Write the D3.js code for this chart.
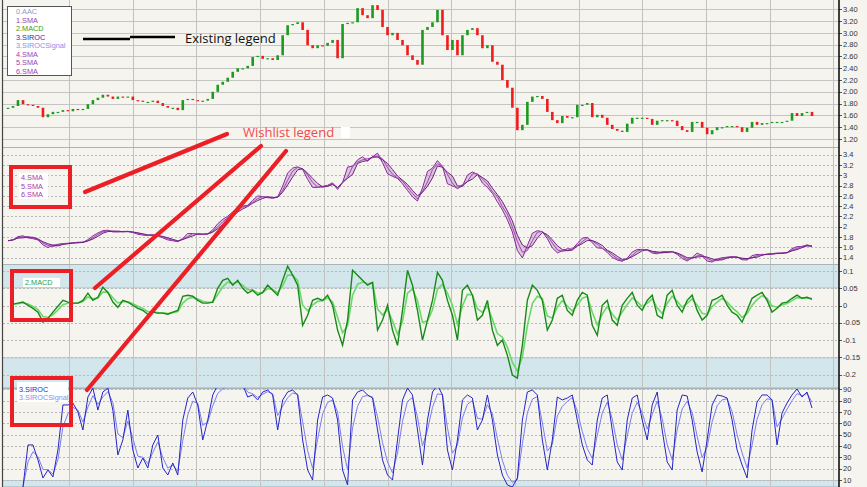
<!DOCTYPE html>
<html><head><meta charset="utf-8">
<script src="https://cdn.jsdelivr.net/npm/d3@7"></script>
<style>body{margin:0;background:#f5f4ef;} svg{display:block;}</style>
</head><body><svg id="c" width="867" height="487"></svg>
<script>
// ---------- DATA ----------
const closePrices = [1.73,1.76,1.86,1.79,1.78,1.76,1.73,1.57,1.62,1.66,1.66,1.69,1.67,1.71,1.69,1.71,1.79,1.86,1.90,1.95,
1.92,1.88,1.92,1.90,1.92,1.86,1.85,1.83,1.83,1.85,1.81,1.76,1.73,1.73,1.69,1.86,1.88,1.86,1.85,1.85,
1.88,2.00,2.12,2.17,2.24,2.34,2.40,2.40,2.44,2.59,2.61,2.56,2.57,2.54,2.62,2.96,3.13,3.15,3.18,3.05,
2.79,2.74,2.79,2.78,2.83,2.88,2.57,3.15,3.17,3.18,3.42,3.30,3.25,3.47,3.39,3.10,2.96,3.00,2.88,2.79,
2.62,2.54,2.46,3.05,3.10,3.18,3.39,2.96,2.71,2.88,2.62,2.96,3.05,3.08,2.96,2.74,2.79,2.51,2.46,2.20,
2.07,1.73,1.35,1.44,1.83,1.92,1.93,1.88,1.66,1.52,1.47,1.59,1.56,1.57,1.78,1.78,1.81,1.57,1.61,1.56,
1.44,1.37,1.34,1.32,1.46,1.56,1.56,1.56,1.54,1.44,1.51,1.52,1.52,1.51,1.42,1.35,1.32,1.49,1.49,1.39,
1.28,1.35,1.40,1.40,1.42,1.42,1.40,1.32,1.39,1.49,1.44,1.47,1.47,1.49,1.49,1.49,1.51,1.64,1.59,1.64,
1.66,1.59];
const macdValues = [null,0.004,0.007,0.010,0.001,-0.008,-0.019,-0.048,-0.037,-0.019,-0.002,0.015,0.010,0.007,0.007,0.015,0.036,0.015,0.024,0.053,
0.038,0.010,-0.005,0.015,0.010,0.001,-0.008,-0.014,-0.025,-0.019,-0.022,-0.022,-0.025,-0.019,-0.014,0.027,0.030,0.027,0.015,0.007,
0.007,0.010,0.050,0.073,0.079,0.059,0.073,0.050,0.036,0.044,0.030,0.038,0.059,0.044,0.030,0.073,0.114,0.088,0.059,-0.057,
-0.028,0.015,0.021,0.015,0.030,0.001,-0.071,-0.115,-0.042,0.102,0.088,0.073,0.059,0.067,-0.071,-0.042,0.001,-0.071,-0.115,-0.014,
0.102,0.059,-0.014,-0.100,-0.042,0.015,0.096,0.073,0.015,-0.028,-0.100,0.044,0.059,0.030,-0.042,-0.028,0.015,-0.071,-0.115,-0.100,
-0.144,-0.201,-0.210,-0.115,0.015,0.059,0.044,0.015,-0.071,-0.042,0.021,0.030,-0.014,-0.028,0.015,0.038,0.030,-0.057,-0.086,0.001,
0.015,-0.042,-0.057,0.001,0.021,0.038,0.001,-0.014,0.015,0.030,-0.028,-0.037,0.030,0.044,0.001,-0.019,0.015,0.030,-0.014,-0.042,
-0.028,0.015,0.021,0.030,0.001,-0.019,-0.028,-0.048,-0.014,0.021,0.030,0.038,0.015,-0.019,-0.008,0.007,0.010,0.021,0.030,0.021,
0.024,0.018];
const sirocValues = [null,null,null,3.8,40.9,40.9,27.7,11.8,18.8,12.7,36.5,76.2,76.2,77.9,70.0,54.1,83.2,91.1,71.7,87.6,
91.1,71.7,32.1,45.3,71.7,36.5,20.6,29.4,20.6,40.9,49.7,20.6,14.4,25.0,14.4,62.9,82.3,87.6,76.2,45.3,
62.9,85.0,93.8,92.9,93.8,92.9,95.6,93.8,83.2,85.0,80.6,87.6,89.4,85.0,54.1,80.6,87.6,89.4,85.0,45.3,
18.8,10.0,62.9,83.2,85.0,82.3,62.9,18.8,5.6,80.6,87.6,89.4,85.0,82.3,54.1,27.7,14.4,10.0,45.3,80.6,
91.1,85.0,54.1,23.2,62.9,87.6,93.8,85.0,36.5,18.8,45.3,80.6,85.0,82.3,54.1,62.9,85.0,62.9,32.1,14.4,
5.6,3.8,11.8,62.9,87.6,89.4,85.0,45.3,18.8,45.3,83.2,80.6,82.3,85.0,62.9,40.9,27.7,23.2,62.9,82.3,
85.0,54.1,25.9,18.8,62.9,82.3,85.0,62.9,45.3,76.2,87.6,54.1,25.9,18.8,71.7,85.0,84.1,62.9,34.7,17.1,
45.3,76.2,85.0,84.1,82.3,62.9,36.5,23.2,11.8,54.1,78.8,85.0,85.0,80.6,40.9,69.1,77.9,85.0,90.3,83.2,
87.6,73.5];
const smaPeriods = [2,3,4];
const priceTicks = [1.2,1.4,1.6,1.8,2.0,2.2,2.4,2.6,2.8,3.0,3.2,3.4];
const smaTicks = [1.4,1.6,1.8,2.0,2.2,2.4,2.6,2.8,3.0,3.2,3.4];
const macdTicks = [-0.2,-0.15,-0.1,-0.05,0,0.05,0.1];
const sirocTicks = [10,20,30,40,50,60,70,80,90];
const legendNames = ["0.AAC","1.SMA","2.MACD","3.SIROC","3.SIROCSignal","4.SMA","5.SMA","6.SMA"];
const legendColors = ["#8a9ac8","#a040b0","#30a030","#2a2ac0","#8c8cf0","#a040b0","#a040b0","#a040b0"];

// ---------- HELPERS (derived indicator lines) ----------
function sma(a,n){return a.map((v,i)=>{const s=a.slice(Math.max(0,i-n+1),i+1);return d3.mean(s);});}
function ema(a,k){let p=null;return a.map(v=>{if(v==null)return null;p=(p==null)?v:p+k*(v-p);return p;});}

// ---------- LAYOUT ----------
const svg=d3.select('#c');
const N=closePrices.length;
const AX=839;
const x=d3.scaleLinear().domain([0,N-1]).range([8,812]);
const P={price:[0,147],sma:[147,264],macd:[264,388],siroc:[388,487]};
const yP=d3.scaleLinear().domain([1.2,3.4]).range([139,9.3]);
const yS=d3.scaleLinear().domain([1.4,3.4]).range([257.7,154.7]);
const yM=d3.scaleLinear().domain([-0.2,0.1]).range([374.7,271]);
const yR=d3.scaleLinear().domain([10,90]).range([480,389.3]);

svg.append('rect').attr('width',867).attr('height',487).attr('fill','#f5f4ef');
const defs=svg.append('defs');
Object.entries(P).forEach(([k,[a,b]])=>{
  defs.append('clipPath').attr('id','clip-'+k).append('rect').attr('x',3).attr('y',a).attr('width',AX-3).attr('height',b-a);
});

// bands
const bandFill='#d3e6ec', bandLine='#b4ccd4';
[[P.macd[0],yM(0.05)],[yM(-0.15),P.macd[1]],[P.siroc[0],yR(90)],[yR(10),P.siroc[1]]].forEach(([a,b])=>{
  svg.append('rect').attr('x',3).attr('y',a).attr('width',AX-3).attr('height',b-a).attr('fill',bandFill);
  svg.append('line').attr('x1',3).attr('x2',AX).attr('y1',a+0.5).attr('y2',a+0.5).attr('stroke',bandLine);
  svg.append('line').attr('x1',3).attr('x2',AX).attr('y1',b-0.5).attr('y2',b-0.5).attr('stroke',bandLine);
});

// horizontal grid
const gridG=svg.append('g');
priceTicks.forEach(t=>gridG.append('line').attr('x1',3).attr('x2',AX).attr('y1',Math.round(yP(t))+0.5).attr('y2',Math.round(yP(t))+0.5).attr('stroke','#c4c4c2'));
[[smaTicks,yS],[macdTicks,yM],[sirocTicks,yR]].forEach(([ts,s])=>ts.forEach(t=>
  gridG.append('line').attr('x1',3).attr('x2',AX).attr('y1',Math.round(s(t))+0.5).attr('y2',Math.round(s(t))+0.5)
   .attr('stroke','#b9b9b7').attr('stroke-dasharray','2,2')));
// vertical grid
d3.range(69,AX,63.7).forEach(v=>gridG.append('line').attr('x1',Math.round(v)+0.5).attr('x2',Math.round(v)+0.5).attr('y1',0).attr('y2',487).attr('stroke','#c2c2c0'));
// panel separators
[P.sma[0],P.macd[0],P.siroc[0]].forEach(v=>svg.append('line').attr('x1',3).attr('x2',AX).attr('y1',v+0.5).attr('y2',v+0.5).attr('stroke','#a8b4b8'));

// candles
const cg=svg.append('g').attr('clip-path','url(#clip-price)');
closePrices.forEach((c,i)=>{
  const o=i>0?closePrices[i-1]:c;
  const y1=Math.min(yP(o),yP(c)), h=Math.max(1.2,Math.abs(yP(o)-yP(c)));
  cg.append('rect').attr('x',x(i)-1.3).attr('width',2.6).attr('y',y1).attr('height',h)
    .attr('fill',c>=o?'#1e9a1e':'#f01c1c');
});

// SMA ribbon
const sg=svg.append('g').attr('clip-path','url(#clip-sma)');
const smaLines=smaPeriods.map(n=>sma(closePrices,n));
sg.append('path').datum(d3.range(N)).attr('fill','#b070c0').attr('opacity',0.35)
  .attr('d',d3.area().x(i=>x(i)).y0(i=>yS(d3.min(smaLines,l=>l[i]))).y1(i=>yS(d3.max(smaLines,l=>l[i]))));
const smaCols=['#8a2a9a','#a048b0','#6e2080'];
smaLines.forEach((l,k)=>sg.append('path').datum(l).attr('fill','none').attr('stroke',smaCols[k]).attr('stroke-width',1)
  .attr('d',d3.line().x((d,i)=>x(i)).y(d=>yS(d))));

// MACD
const mg=svg.append('g').attr('clip-path','url(#clip-macd)');
const macdSignal=ema(macdValues,0.55);
const lineM=d3.line().defined(d=>d!=null).x((d,i)=>x(i)).y(d=>yM(d));
mg.append('path').datum(macdSignal).attr('fill','none').attr('stroke','#6ad86a').attr('stroke-width',1.6).attr('d',lineM);
mg.append('path').datum(macdValues).attr('fill','none').attr('stroke','#178a17').attr('stroke-width',1.4).attr('d',lineM);

// SIROC
const rg=svg.append('g').attr('clip-path','url(#clip-siroc)');
const sirocSignal=ema(sirocValues,0.6);
const lineR=d3.line().defined(d=>d!=null).x((d,i)=>x(i)).y(d=>yR(d));
rg.append('path').datum(sirocSignal).attr('fill','none').attr('stroke','#7c7cf0').attr('stroke-width',1).attr('d',lineR);
rg.append('path').datum(sirocValues).attr('fill','none').attr('stroke','#2424c8').attr('stroke-width',1).attr('d',lineR);

// right axes
const fmt2=d3.format('.2f'), fmtG=d=>String(+d.toFixed(2));
function axis(ticks,s,f,[a,b]){
  const g=svg.append('g');
  ticks.forEach(t=>{
    const yy=s(t); if(yy<a-2||yy>b+2) return;
    g.append('line').attr('x1',AX).attr('x2',AX+3).attr('y1',Math.round(yy)+0.5).attr('y2',Math.round(yy)+0.5).attr('stroke','#555');
    g.append('text').attr('x',AX+4).attr('y',yy).attr('dy','0.35em').attr('font-family','Liberation Sans, Arial, sans-serif')
      .attr('font-size','7.5px').attr('fill','#333').text(f(t));
  });
}
axis(priceTicks,yP,fmt2,P.price);
axis(smaTicks,yS,fmtG,P.sma);
axis(macdTicks,yM,fmtG,P.macd);
axis(sirocTicks,yR,fmtG,P.siroc);
svg.append('line').attr('x1',AX).attr('x2',AX).attr('y1',0).attr('y2',487).attr('stroke','#111').attr('stroke-width',1.6);
svg.append('line').attr('x1',2.5).attr('x2',2.5).attr('y1',0).attr('y2',487).attr('stroke','#444').attr('stroke-width',1.2);

// existing legend
const lg=svg.append('g');
lg.append('rect').attr('x',7.5).attr('y',6.5).attr('width',64).attr('height',69).attr('fill','#fff').attr('stroke','#555');
legendNames.forEach((n,i)=>lg.append('text').attr('x',16).attr('y',11.7+i*8.5).attr('dy','0.35em')
  .attr('font-family','Liberation Sans, Arial, sans-serif').attr('font-size','7.3px').attr('fill',legendColors[i]).text(n));
svg.append('path').attr('d','M83,39 L130,39 M130,37 L175,37').attr('stroke','#000').attr('stroke-width',2.6).attr('fill','none');
svg.append('text').attr('x',185).attr('y',38).attr('dy','0.35em').attr('font-family','Open Sans, sans-serif')
  .attr('font-size','13px').attr('fill','#111').text('Existing legend');

// wishlist annotations
const RED='#ec1f26';
svg.append('text').attr('x',243).attr('y',132.5).attr('dy','0.35em').attr('font-family','Open Sans, sans-serif')
  .attr('font-size','13px').attr('fill','#f04a4a').text('Wishlist legend');
svg.append('rect').attr('x',341).attr('y',127).attr('width',9).attr('height',11).attr('fill','#fff');
[[85,192,227,134],[95,288,261,146],[87,390,286,151]].forEach(([a,b,c,d])=>
  svg.append('line').attr('x1',a).attr('y1',b).attr('x2',c).attr('y2',d).attr('stroke',RED).attr('stroke-width',4.2).attr('stroke-linecap','round'));
// wishlist boxes
function wbox(x0,y0,w,h,bg,items){
  svg.append('rect').attr('x',bg[0]).attr('y',bg[1]).attr('width',bg[2]).attr('height',bg[3]).attr('fill','#fff');
  items.forEach(([t,c,yy])=>svg.append('text').attr('x',bg[0]+2).attr('y',yy).attr('dy','0.35em')
    .attr('font-family','Liberation Sans, Arial, sans-serif').attr('font-size','7.3px').attr('fill',c).text(t));
  svg.append('rect').attr('x',x0).attr('y',y0).attr('width',w).attr('height',h).attr('fill','none').attr('stroke',RED).attr('stroke-width',4);
}
wbox(11,167,59,40,[19,173,29,26],[[legendNames[5],legendColors[5],177.5],[legendNames[6],legendColors[6],186],[legendNames[7],legendColors[7],194.5]]);
wbox(12,271,59,49,[23,278,37,9],[[legendNames[2],legendColors[2],282.5]]);
wbox(12,378,59,47,[17,382,51,20],[[legendNames[3],legendColors[3],389],[legendNames[4],legendColors[4],397.5]]);
</script></body></html>
